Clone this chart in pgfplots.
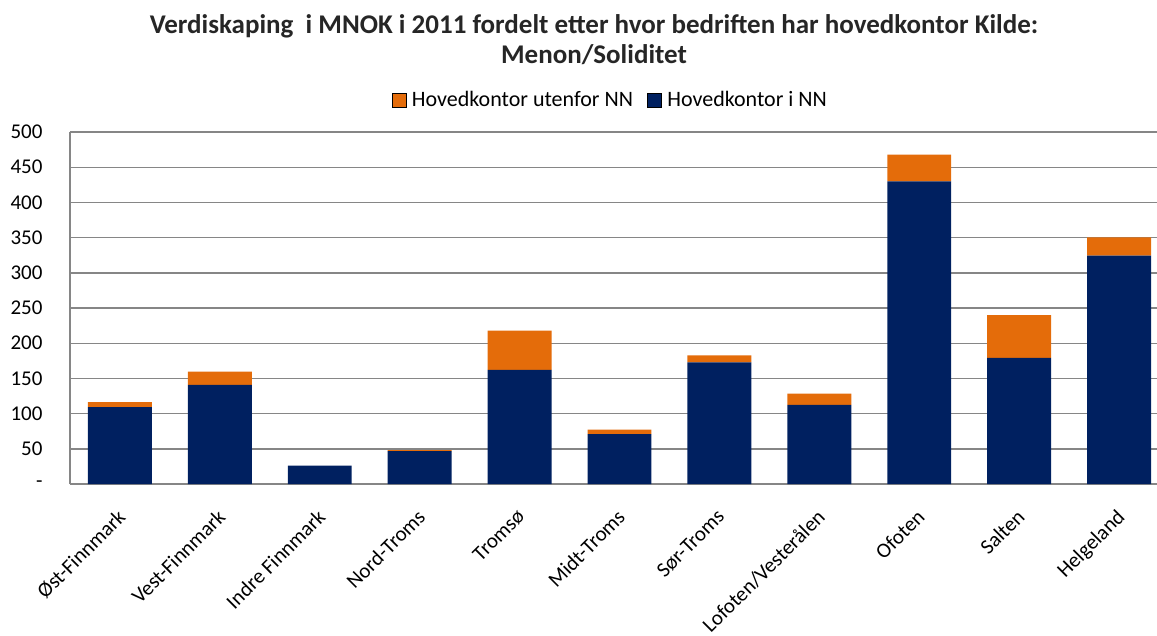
\documentclass[border=0pt]{standalone}
\usepackage{pgfplots}
\pgfplotsset{compat=1.18}
\usepackage{fontspec}
\setmainfont{Carlito}
\definecolor{navy}{RGB}{0,32,96}
\definecolor{orng}{RGB}{228,108,10}
\definecolor{gridgray}{RGB}{134,134,134}

\begin{document}
\begin{tikzpicture}
\path[use as bounding box] (-70pt,-151pt) rectangle (1087pt,484pt);
\begin{axis}[
    at={(0pt,0pt)}, anchor=south west,
    scale only axis,
    width=1087pt, height=352pt,
    ybar stacked,
    bar width=0.64,
    xmin=-0.5, xmax=10.38,
    ymin=0, ymax=500,
    ytick={0,50,...,500},
    yticklabels={-,50,100,150,200,250,300,350,400,450,500},
    xtick={0,...,10},
    xticklabels={Øst-Finnmark,Vest-Finnmark,Indre Finnmark,Nord-Troms,Tromsø,Midt-Troms,Sør-Troms,Lofoten/Vesterålen,Ofoten,Salten,Helgeland},
    x tick label style={rotate=45, anchor=north east, font=\fontsize{21}{25}\selectfont, xshift=-16pt, yshift=-11pt},
    y tick label style={font=\fontsize{21}{25}\selectfont, xshift=-24pt},
    major tick length=0pt,
    axis x line*=bottom, axis y line*=left,
    axis line style={gridgray, line width=1.4pt, -},
    ymajorgrids,
    grid style={gridgray, line width=1.4pt},
    legend style={at={(0.497,1.091)}, anchor=center, draw=none, legend columns=2,
        font=\fontsize{22}{26}\selectfont,
        /tikz/every odd column/.append style={column sep=4pt},
        /tikz/every even column/.append style={column sep=12pt}},
    legend image code/.code={\fill[#1] (0pt,-7pt) rectangle (14pt,7pt);},
]
\addlegendimage{fill=orng}
\addlegendentry{Hovedkontor utenfor NN}
\addlegendimage{fill=navy}
\addlegendentry{Hovedkontor i NN}
\addplot[fill=navy, draw=none, forget plot] coordinates {
    (0,109.3) (1,140.7) (2,26.1) (3,46.6) (4,162.0) (5,70.8)
    (6,172.8) (7,112.5) (8,429.7) (9,179.0) (10,324.3)
};
\addplot[fill=orng, draw=none, forget plot] coordinates {
    (0,7.1) (1,19.0) (2,0) (3,1.4) (4,55.7) (5,6.6)
    (6,10.0) (7,15.7) (8,38.0) (9,60.8) (10,26.1)
};
\end{axis}
\node[font=\bfseries\fontsize{27}{30}\selectfont, align=center, text=black!85] at (524pt,444pt)
    {Verdiskaping\ \ i MNOK i 2011 fordelt etter hvor bedriften har hovedkontor Kilde:\\Menon/Soliditet};
\end{tikzpicture}
\end{document}
